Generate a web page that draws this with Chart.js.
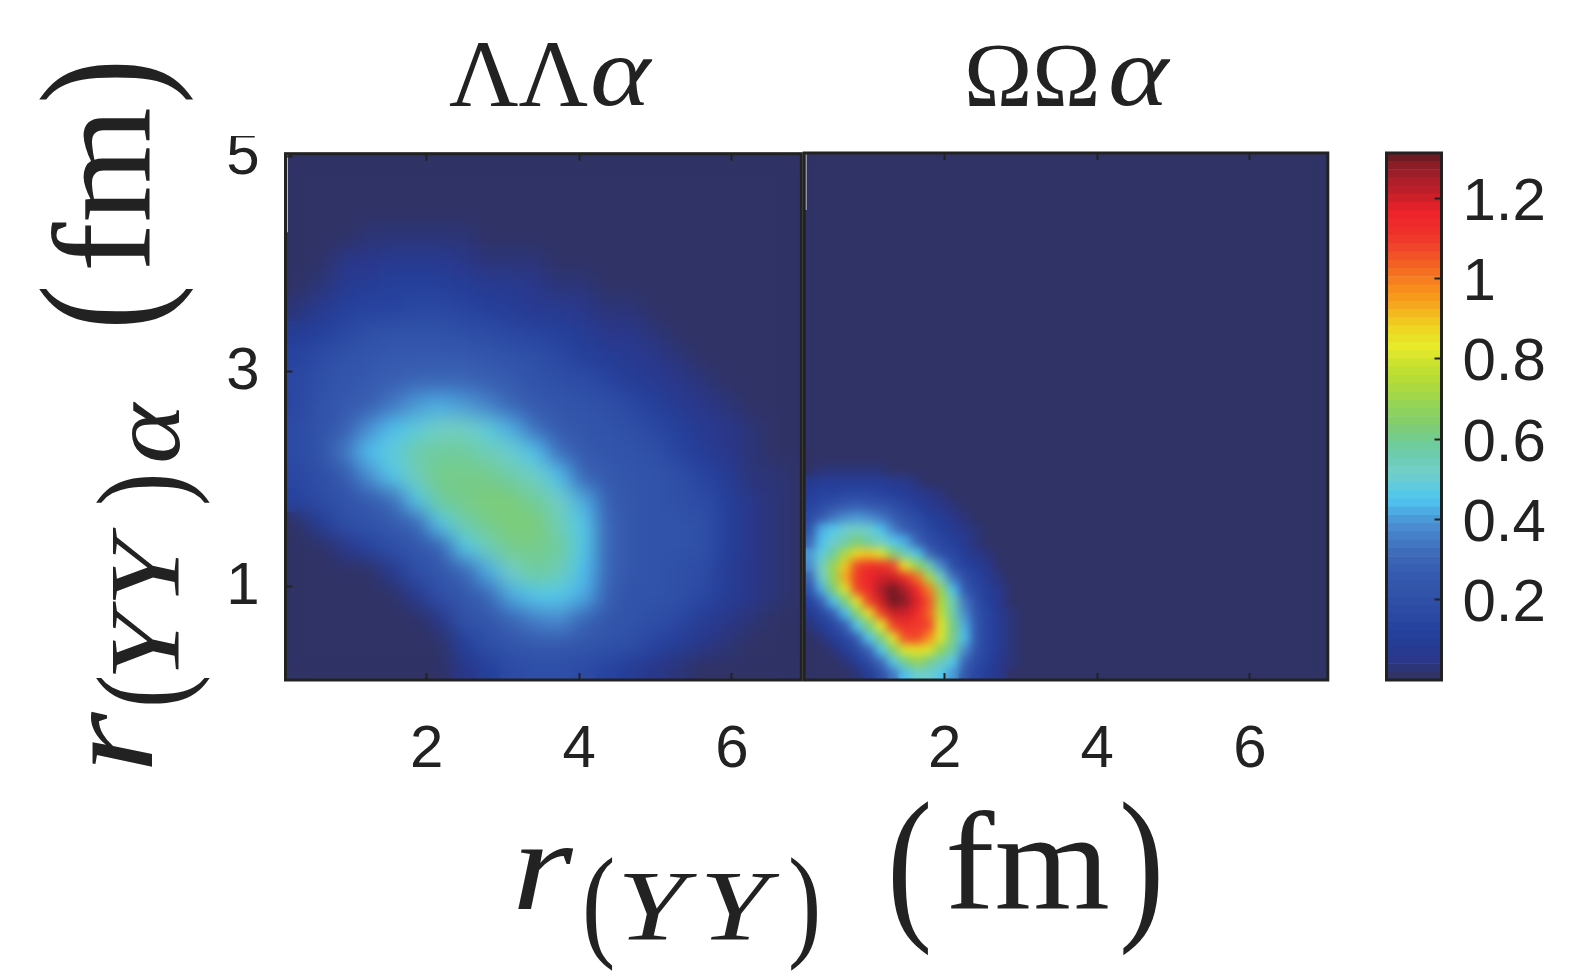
<!DOCTYPE html>
<html>
<head>
<meta charset="utf-8">
<script src="https://cdn.jsdelivr.net/npm/chart.js@4"></script>
<style>
  html, body { margin: 0; padding: 0; background: #fff; width: 1575px; height: 976px; overflow: hidden; }
  canvas { position: absolute; }
  .t { position: absolute; left: 0; top: 0; white-space: nowrap; line-height: 0; color: #222;
       font-family: "Liberation Serif", serif; transform-origin: 0 0; }
  .t i { font-style: italic; }
</style>
</head>
<body>
<canvas id="lambdaChart" width="629" height="644" style="left:190px;top:136px"></canvas>
<canvas id="omegaChart" width="542" height="640" style="left:795px;top:140px"></canvas>
<canvas id="barChart" width="190" height="560" style="left:1380px;top:140px"></canvas>
<script>
// ticks
const xTickValues = [2, 4, 6];
const yTickValues = [1, 3, 5];
const barTickValues = [0.2, 0.4, 0.6, 0.8, 1, 1.2];

// colour bar, bottom to top
const barMax = 1.3125;
const barColors = [
  '#303366', '#2c3578', '#2a378a', '#283a90', '#263d96', '#24409a', '#2743a0', '#2a47a2',
  '#2d4ba5', '#2f4fa7', '#3153a9', '#3356ab', '#3559ae', '#385eb2', '#3b64b5', '#3f6cba',
  '#4376c1', '#4680c8', '#4a8ccf', '#4b9ad7', '#4cace3', '#4fc0ee', '#55c8ea', '#5fcbdc',
  '#6ccdcf', '#72cfc6', '#6ecdb8', '#6dccab', '#6fcc9c', '#76cc8a', '#7ccc7a', '#85cf69',
  '#8dd25e', '#96d455', '#a2d74a', '#acd93f', '#b6dc38', '#bfdf32', '#cbe22e', '#dce62c',
  '#e7e929', '#e8e126', '#eed622', '#f0c81f', '#f2b81e', '#f5a81d', '#f79a1c', '#f88c1d',
  '#f67e20', '#f46f22', '#f36024', '#f25228', '#f0452a', '#ef3a2b', '#ee302b', '#ee2a2a',
  '#ee242a', '#e02129', '#cd2029', '#bd1f2a', '#ae1f2a', '#9c1e29', '#8b1d27', '#6e1a22'
];

// left panel
const lambdaX = [0.30, 0.61, 0.93, 1.24, 1.55, 1.87, 2.18, 2.49, 2.81, 3.12, 3.44, 3.75, 4.06, 4.38, 4.69, 5.00, 5.32, 5.63, 5.95, 6.26, 6.57, 6.89];
const lambdaY = [4.92, 4.70, 4.48, 4.25, 4.03, 3.81, 3.59, 3.36, 3.14, 2.92, 2.70, 2.47, 2.25, 2.03, 1.80, 1.58, 1.36, 1.14, 0.91, 0.69, 0.47, 0.24];
const lambdaZ = [
  [0,0,0,0,0,0,0,0,0,0,0,0,0,0,0,0,0,0,0,0,0,0],
  [0,0,0,0,0,0,0,0,0,0,0,0,0,0,0,0,0,0,0,0,0,0],
  [0,0,0,0,.02,.02,.02,0,0,0,0,0,0,0,0,0,0,0,0,0,0,0],
  [0,0,.02,.025,.03,.03,.03,.025,.02,0,0,0,0,0,0,0,0,0,0,0,0,0],
  [0,.02,.05,.06,.07,.07,.07,.05,.035,.03,.025,.02,.01,0,0,0,0,0,0,0,0,0],
  [.02,.04,.07,.09,.105,.11,.105,.09,.08,.07,.055,.04,.03,.02,0,0,0,0,0,0,0,0],
  [.04,.08,.115,.13,.14,.145,.145,.13,.115,.1,.08,.065,.05,.035,.025,.02,0,0,0,0,0,0],
  [.09,.12,.16,.2,.21,.22,.22,.205,.18,.155,.125,.105,.085,.06,.045,.03,.02,0,0,0,0,0],
  [.13,.18,.21,.24,.255,.26,.26,.25,.23,.21,.19,.15,.115,.085,.065,.045,.03,.02,0,0,0,0],
  [.15,.2,.24,.26,.28,.295,.3,.295,.27,.25,.225,.205,.17,.125,.095,.07,.05,.035,.02,0,0,0],
  [.16,.21,.25,.28,.33,.4,.43,.41,.35,.29,.26,.24,.22,.19,.15,.105,.075,.045,.03,.02,0,0],
  [.17,.21,.27,.38,.44,.49,.52,.52,.48,.42,.31,.26,.24,.22,.2,.16,.12,.07,.045,.025,.02,0],
  [.17,.22,.33,.44,.49,.57,.59,.59,.55,.5,.45,.31,.26,.24,.22,.2,.14,.09,.05,.035,.02,0],
  [.16,.2,.26,.38,.47,.55,.6,.61,.61,.57,.52,.44,.3,.25,.23,.215,.2,.13,.095,.04,.025,0],
  [.13,.17,.22,.25,.32,.47,.58,.61,.63,.63,.58,.52,.43,.28,.235,.22,.205,.18,.105,.05,.03,.02],
  [.02,.1,.19,.22,.25,.3,.46,.57,.61,.63,.62,.55,.46,.3,.24,.225,.21,.19,.11,.05,.03,.02],
  [0,.01,.05,.13,.2,.23,.28,.46,.54,.6,.61,.58,.47,.3,.24,.225,.21,.185,.11,.05,.035,.02],
  [0,0,0,.02,.07,.2,.23,.29,.43,.52,.58,.55,.45,.3,.24,.22,.205,.17,.1,.05,.03,.02],
  [0,0,0,0,.02,.08,.2,.23,.29,.42,.47,.47,.42,.28,.225,.21,.19,.145,.09,.05,.03,.02],
  [0,0,0,0,0,0,.06,.21,.24,.3,.36,.38,.3,.24,.21,.185,.15,.09,.05,.035,.02,0],
  [0,0,0,0,0,0,.02,.11,.2,.23,.26,.26,.24,.215,.195,.14,.095,.055,.035,.02,0,0],
  [0,0,0,0,0,0,0,.045,.12,.17,.2,.2,.17,.13,.1,.06,.025,0,0,0,0,0]
];

// right panel, only the corner with the blob, the rest is zero
const omegaX = [0.23, 0.39, 0.54, 0.70, 0.86, 1.01, 1.17, 1.33, 1.48, 1.64, 1.80, 1.95, 2.11, 2.27, 2.42, 2.58, 2.74, 2.89, 3.05];
const omegaY = [2.20, 2.08, 1.97, 1.86, 1.75, 1.64, 1.53, 1.42, 1.30, 1.19, 1.08, 0.97, 0.86, 0.75, 0.64, 0.52, 0.41, 0.30, 0.19];
const omegaZ = [
  [0,0,0,0,0,0,0,0,0,0,0,0,0,0,0,0,0,0,0],
  [.02,.03,.03,.03,.03,.03,.03,.02,.02,0,0,0,0,0,0,0,0,0,0],
  [.07,.09,.1,.1,.1,.1,.09,.08,.07,.04,.02,0,0,0,0,0,0,0,0],
  [.1,.13,.14,.15,.15,.15,.14,.12,.1,.07,.05,.03,.02,0,0,0,0,0,0],
  [.13,.18,.22,.25,.27,.26,.24,.2,.16,.11,.08,.05,.03,.02,0,0,0,0,0],
  [.17,.26,.34,.38,.39,.37,.33,.27,.22,.17,.12,.09,.05,.03,.02,0,0,0,0],
  [.22,.42,.46,.5,.52,.5,.44,.35,.27,.21,.16,.12,.08,.05,.03,.02,0,0,0],
  [.3,.45,.5,.57,.62,.57,.52,.47,.42,.3,.2,.15,.11,.07,.04,.02,0,0,0],
  [.4,.48,.58,.72,.88,.9,.8,.65,.55,.47,.32,.2,.15,.1,.06,.03,.02,0,0],
  [.38,.52,.68,.9,1.07,1.12,1.12,1.08,.85,.68,.55,.37,.2,.14,.09,.05,.02,0,0],
  [.3,.5,.68,.93,1.1,1.15,1.2,1.2,1.13,1.02,.72,.52,.34,.19,.13,.08,.04,.02,0],
  [.22,.42,.62,.8,1.07,1.14,1.24,1.3,1.24,1.13,1.0,.68,.45,.26,.16,.1,.05,.02,0],
  [.14,.27,.44,.63,.84,1.07,1.2,1.3,1.28,1.18,1.05,.72,.55,.33,.19,.12,.06,.02,0],
  [.08,.16,.28,.44,.65,.86,1.08,1.2,1.2,1.13,1.03,.76,.56,.38,.22,.13,.07,.03,.02],
  [.03,.09,.16,.28,.46,.62,.84,1.07,1.12,1.1,1.07,.8,.6,.43,.24,.14,.07,.03,.02],
  [.02,.04,.09,.16,.28,.46,.63,.84,1.06,1.07,.98,.8,.61,.44,.24,.14,.07,.03,.02],
  [0,.02,.04,.1,.17,.3,.46,.64,.8,.86,.8,.66,.56,.38,.21,.13,.07,.03,.02],
  [0,0,.02,.04,.1,.18,.32,.46,.6,.68,.61,.54,.46,.3,.18,.12,.06,.03,.02],
  [0,0,0,.02,.04,.1,.2,.34,.45,.5,.5,.46,.4,.24,.16,.1,.06,.02,.02]
];

// thin light streaks at the top of the panel edges
const lambdaStreakX = [0.17, 0.17];
const lambdaStreakY = [5.03, 4.3];
const omegaStreakX = [0.18, 0.18];
const omegaStreakY = [5.03, 4.5];

const ink = '#222';
const navy = barColors[0];
const tickFont = { family: '"Liberation Sans", Arial, sans-serif', size: 60 };

function colorFor(v) {
  const i = Math.floor(v / barMax * barColors.length);
  return barColors[Math.min(i, barColors.length - 1)];
}

function cellsFrom(xs, ys, zs) {
  const pts = [];
  ys.forEach((y, r) => xs.forEach((x, c) => pts.push({ x: x, y: y, v: zs[r][c] })));
  return pts;
}

// navy background, then the cell squares get softened like shading interp
const panelPlugin = {
  id: 'panel',
  beforeDatasetsDraw(chart) {
    const a = chart.chartArea, ctx = chart.ctx;
    ctx.save();
    ctx.fillStyle = navy;
    ctx.fillRect(a.left, a.top, a.width, a.height);
    ctx.restore();
  },
  afterDatasetDraw(chart, args) {
    const ds = chart.data.datasets[args.index];
    if (!ds.blur) return;
    const a = chart.chartArea, ctx = chart.ctx;
    const tmp = document.createElement('canvas');
    tmp.width = a.width;
    tmp.height = a.height;
    tmp.getContext('2d').drawImage(chart.canvas, a.left, a.top, a.width, a.height, 0, 0, a.width, a.height);
    ctx.save();
    ctx.beginPath();
    ctx.rect(a.left, a.top, a.width, a.height);
    ctx.clip();
    ctx.filter = 'blur(' + ds.blur + 'px)';
    ctx.drawImage(tmp, a.left, a.top);
    ctx.restore();
  }
};
const framePlugin = {
  id: 'frame',
  afterDraw(chart) {
    const a = chart.chartArea, ctx = chart.ctx;
    ctx.save();
    ctx.strokeStyle = ink;
    ctx.lineWidth = 3;
    ctx.strokeRect(a.left, a.top, a.width, a.height);
    ctx.restore();
  }
};

function setTicks(values) {
  return scale => { scale.ticks = values.map(v => ({ value: v })); };
}
function fitTo(key, size) {
  return s => {
    s[key] = size;
    s.paddingLeft = s.paddingRight = s.paddingTop = s.paddingBottom = 0;
  };
}
const inwardTicks = { drawOnChartArea: false, drawTicks: true, tickLength: -7, tickWidth: 2, tickColor: ink, z: 1 };

function makePanel(id, opt) {
  new Chart(document.getElementById(id), {
    type: 'scatter',
    data: {
      datasets: [
        { data: opt.streakX.map((x, i) => ({ x: x, y: opt.streakY[i] })), showLine: true, pointRadius: 0,
          borderColor: 'rgba(228,228,244,0.75)', borderWidth: 2 },
        { data: opt.cells, pointStyle: 'rect', pointRadius: (opt.pitch / 2 + 0.5) * Math.SQRT2, pointBorderWidth: 0,
          pointBackgroundColor: opt.cells.map(p => colorFor(p.v)), blur: opt.blur }
      ]
    },
    options: {
      responsive: false,
      animation: false,
      events: [],
      layout: { padding: opt.padding },
      plugins: { legend: { display: false }, tooltip: { enabled: false } },
      scales: {
        x: {
          type: 'linear', position: 'bottom', min: opt.xMin, max: opt.xMax,
          afterBuildTicks: setTicks(xTickValues),
          afterFit: fitTo('height', 100),
          border: { display: false },
          grid: inwardTicks,
          ticks: { autoSkip: false, maxRotation: 0, padding: 41, color: ink, font: tickFont, callback: v => v }
        },
        xTop: {
          type: 'linear', position: 'top', min: opt.xMin, max: opt.xMax,
          afterBuildTicks: setTicks(xTickValues),
          afterFit: fitTo('height', 0),
          border: { display: false },
          grid: inwardTicks,
          ticks: { display: false }
        },
        y: {
          type: 'linear', position: 'left', min: 0.134, max: 5.03, display: opt.showY,
          afterBuildTicks: setTicks(yTickValues),
          afterFit: fitTo('width', opt.showY ? 95.5 : 0),
          border: { display: false },
          grid: inwardTicks,
          ticks: { autoSkip: false, padding: 33, labelOffset: 1, color: ink, font: tickFont, callback: v => v }
        }
      }
    },
    plugins: [panelPlugin, framePlugin]
  });
}

makePanel('lambdaChart', {
  cells: cellsFrom(lambdaX, lambdaY, lambdaZ), streakX: lambdaStreakX, streakY: lambdaStreakY,
  xMin: 0.15, xMax: 6.91, showY: true, pitch: 24, blur: 10,
  padding: { top: 16, right: 1.5, left: 0, bottom: 0 }
});
makePanel('omegaChart', {
  cells: cellsFrom(omegaX, omegaY, omegaZ), streakX: omegaStreakX, streakY: omegaStreakY,
  xMin: 0.16, xMax: 7.02, showY: false, pitch: 12, blur: 5,
  padding: { top: 13, right: 2, left: 7.5, bottom: 0 }
});

// colour bar
new Chart(document.getElementById('barChart'), {
  type: 'bar',
  data: {
    labels: [''],
    datasets: barColors.map((c, i) => ({
      data: [[i * barMax / barColors.length, (i + 1) * barMax / barColors.length]],
      backgroundColor: c, barPercentage: 1, categoryPercentage: 1, grouped: false
    }))
  },
  options: {
    responsive: false,
    animation: false,
    events: [],
    layout: { padding: { top: 13, left: 6.5, right: 0, bottom: 20 } },
    plugins: { legend: { display: false }, tooltip: { enabled: false } },
    scales: {
      x: { display: false },
      y: {
        type: 'linear', position: 'right', min: 0, max: barMax,
        afterBuildTicks: setTicks(barTickValues),
        afterFit: fitTo('width', 128.5),
        border: { display: false },
        grid: inwardTicks,
        ticks: { autoSkip: false, padding: 28, labelOffset: 5, color: ink, font: tickFont, callback: v => v }
      }
    }
  },
  plugins: [framePlugin]
});

// math labels, placed by baseline: [html, x, baseline, size, rotation, letter spacing, x stretch]
const labelParts = [
  ['ΛΛ', 449, 106, 96, 0, 0, 1],
  ['<i>α</i>', 590, 106, 100, 0, 0, 1.15],
  ['ΩΩ', 964, 106, 92, 0, 0, 1],
  ['<i>α</i>', 1108, 106, 100, 0, 0, 1.15],
  ['<i>r</i>', 512, 909, 130, 0, 0, 1.2],
  ['(', 582, 944, 125, 0, 0, 0.8],
  ['<i>YY</i>', 617, 939, 99, 0, 11, 1.25],
  [')', 788, 944, 125, 0, 0, 0.8],
  ['(', 887, 919, 170, 0, 0, 0.8],
  ['fm', 945, 909, 140, 0, 0, 1.06],
  [')', 1119, 919, 170, 0, 0, 0.8],
  ['<i>r</i>', 152, 773, 130, -90, 0, 1.2],
  ['(', 183, 708, 125, -90, 0, 0.8],
  ['<i>YY</i>', 178, 681, 99, -90, 4, 1.25],
  [')', 183, 506, 125, -90, 0, 0.8],
  ['<i>α</i>', 180, 464, 100, -90, 0, 1.15],
  ['(', 157, 330, 170, -90, 0, 0.8],
  ['fm', 150, 272, 140, -90, 0, 1.06],
  [')', 157, 104, 170, -90, 0, 0.8]
];
labelParts.forEach(p => {
  const el = document.createElement('span');
  el.className = 't';
  el.innerHTML = p[0];
  el.style.fontSize = p[3] + 'px';
  el.style.letterSpacing = p[5] + 'px';
  el.style.transform = `translate(${p[1]}px, ${p[2]}px) rotate(${p[4]}deg) scaleX(${p[6]}) translateY(-0.3375em)`;
  document.body.appendChild(el);
});
</script>
</body>
</html>
